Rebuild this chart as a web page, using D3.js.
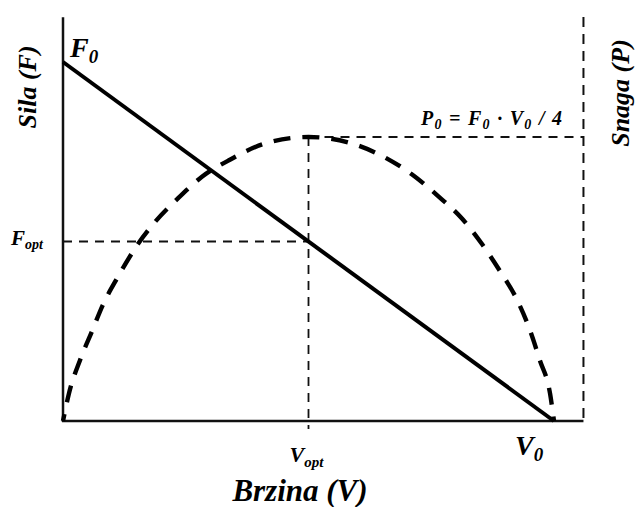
<!DOCTYPE html>
<html>
<head>
<meta charset="utf-8">
<script src="https://cdn.jsdelivr.net/npm/d3@7"></script>
<style>
  html, body { margin: 0; padding: 0; background: #fff; }
  svg { display: block; }
  text { font-family: "Liberation Serif", "Times New Roman", serif; font-weight: bold; font-style: italic; fill: #000; }
</style>
</head>
<body>
<script>
// Force–velocity line (normalised: F0 = 1, V0 = 1)
const forceV = [0, 1];
const forceF = [1, 0];
// Power curve, sketched through these points
const powerV = [0, 0.012, 0.035, 0.059, 0.081, 0.112, 0.153, 0.187, 0.234, 0.283, 0.34, 0.413, 0.5,
                0.587, 0.66, 0.711, 0.764, 0.813, 0.853, 0.89, 0.925, 0.951, 0.971, 0.992, 1.0];
const powerP = [0, 0.024, 0.054, 0.079, 0.102, 0.127, 0.156, 0.175, 0.196, 0.215, 0.230, 0.2445, 0.25,
                0.2445, 0.231, 0.217, 0.198, 0.178, 0.156, 0.132, 0.1065, 0.08, 0.0537, 0.024, 0];
const vOpt = 0.5, fOpt = 0.5, pMax = 0.25;
const vMax = 1.06, fMax = 1.125, pTop = 0.3556;

const W = 638, H = 507;
const svg = d3.select("body").append("svg").attr("width", W).attr("height", H);

const x = d3.scaleLinear().domain([0, 1]).range([63, 554]);
const yF = d3.scaleLinear().domain([0, 1]).range([421, 62]);
const yP = d3.scaleLinear().domain([0, pMax]).range([421, 137]);

// axes
svg.append("line").attr("x1", x(0)).attr("x2", x(0)).attr("y1", yF(fMax)).attr("y2", yF(0) + 1)
  .attr("stroke", "#111").attr("stroke-width", 2.5);
svg.append("line").attr("x1", x(0) - 1).attr("x2", x(vMax)).attr("y1", yF(0)).attr("y2", yF(0))
  .attr("stroke", "#111").attr("stroke-width", 2.5);
// right (power) axis, dashed
svg.append("line").attr("x1", x(vMax)).attr("x2", x(vMax)).attr("y1", yP(pTop)).attr("y2", yF(0))
  .attr("stroke", "#111").attr("stroke-width", 2).attr("stroke-dasharray", "10,7");

// guide lines
const guide = (x1, y1, x2, y2) => svg.append("line")
  .attr("x1", x1).attr("y1", y1).attr("x2", x2).attr("y2", y2)
  .attr("stroke", "#111").attr("stroke-width", 1.8).attr("stroke-dasharray", "9,7");
guide(x(0), yF(fOpt), x(vOpt), yF(fOpt));
guide(x(vOpt), yP(pMax), x(vOpt), yF(0) + 8);
guide(x(vOpt), yP(pMax), x(vMax), yP(pMax));

// power curve (dashed, thick)
const pts = powerV.map((v, i) => [v, powerP[i]]);
const powerLine = d3.line().x(d => x(d[0])).y(d => yP(d[1])).curve(d3.curveMonotoneX);
svg.append("path")
  .attr("d", powerLine(pts))
  .attr("fill", "none").attr("stroke", "#000").attr("stroke-width", 4.4)
  .attr("stroke-dasharray", "17,12").attr("stroke-dashoffset", 10);

// force line (solid)
const fpts = forceV.map((v, i) => [v, forceF[i]]);
svg.append("path")
  .attr("d", d3.line().x(d => x(d[0])).y(d => yF(d[1]))(fpts))
  .attr("fill", "none").attr("stroke", "#000").attr("stroke-width", 4);

// labels with subscripts
function label(px, py, main, sub, size, subSize, anchor) {
  const t = svg.append("text").attr("x", px).attr("y", py).attr("font-size", size)
    .attr("text-anchor", anchor || "start");
  t.append("tspan").text(main);
  t.append("tspan").attr("font-size", subSize).attr("dy", subSize * 0.3).text(sub);
  return t;
}
label(70, 57, "F", "0", 28, 19);
label(11, 245, "F", "opt", 21, 14);
label(x(vOpt) - 2, 462, "V", "opt", 22, 15, "middle");
label(515, 455, "V", "0", 28, 19);

// P0 = F0 · V0 / 4
const pt = svg.append("text").attr("x", 421).attr("y", 125).attr("font-size", 20)
  .attr("textLength", 141).attr("lengthAdjust", "spacing");
pt.append("tspan").text("P");
pt.append("tspan").attr("font-size", 14).attr("dy", 4).text("0");
pt.append("tspan").attr("dy", -4).text(" = F");
pt.append("tspan").attr("font-size", 14).attr("dy", 4).text("0");
pt.append("tspan").attr("dy", -4).text(" · V");
pt.append("tspan").attr("font-size", 14).attr("dy", 4).text("0");
pt.append("tspan").attr("dy", -4).text(" / 4");

// axis titles
svg.append("text").attr("x", 300).attr("y", 501).attr("font-size", 31)
  .attr("text-anchor", "middle").text("Brzina (V)");
svg.append("text").attr("transform", "translate(36,87) rotate(-90)").attr("font-size", 26)
  .attr("text-anchor", "middle").text("Sila (F)");
svg.append("text").attr("transform", "translate(629,93) rotate(-90)").attr("font-size", 26)
  .attr("text-anchor", "middle").text("Snaga (P)");
</script>
</body>
</html>
